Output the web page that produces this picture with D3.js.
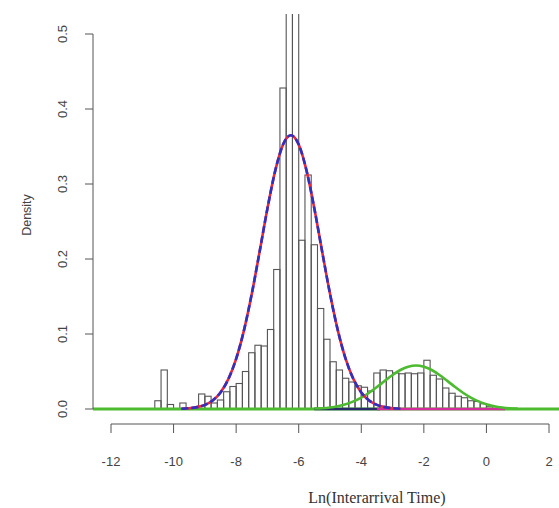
<!DOCTYPE html>
<html>
<head>
<meta charset="utf-8">
<script src="https://cdn.jsdelivr.net/npm/d3@7"></script>
<style>
  body { margin: 0; background: #fff; }
  text { font-family: "Liberation Sans", Arial, sans-serif; fill: #444; }
  .xlab { font-family: "Liberation Serif", "Times New Roman", serif; fill: #333; }
</style>
</head>
<body>
<div id="chart"></div>
<script>
// histogram bins (left edge, width 0.2) and densities
const binLeft = [-10.6, -10.4, -10.2, -10.0, -9.8, -9.6, -9.4, -9.2, -9.0, -8.8,
  -8.6, -8.4, -8.2, -8.0, -7.8, -7.6, -7.4, -7.2, -7.0, -6.8,
  -6.6, -6.4, -6.2, -6.0, -5.8, -5.6, -5.4, -5.2, -5.0, -4.8,
  -4.6, -4.4, -4.2, -4.0, -3.8, -3.6, -3.4, -3.2, -3.0, -2.8,
  -2.6, -2.4, -2.2, -2.0, -1.8, -1.6, -1.4, -1.2, -1.0, -0.8,
  -0.6, -0.4, -0.2, 0.0]
const binDensity = [0.011, 0.052, 0.006, 0, 0.008, 0, 0, 0.020, 0.017, 0.008,
  0.012, 0.023, 0.030, 0.034, 0.050, 0.075, 0.085, 0.084, 0.106, 0.186,
  0.428, 0.62, 0.60, 0.225, 0.312, 0.219, 0.134, 0.093, 0.063, 0.052,
  0.041, 0.036, 0.031, 0.029, 0.024, 0.048, 0.052, 0.051, 0.048, 0.047,
  0.048, 0.047, 0.048, 0.065, 0.045, 0.040, 0.028, 0.021, 0.017, 0.015,
  0.011, 0.010, 0.007, 0.003]
const binWidth = 0.2

// main fitted component (red solid + blue dashed)
const mainX = [-9.75, -9.5, -9.25, -9.0, -8.75, -8.5, -8.25, -8.0, -7.75, -7.5, -7.25, -7.0,
  -6.75, -6.5, -6.25, -6.0, -5.75, -5.5, -5.25, -5.0, -4.75, -4.5, -4.25, -4.0,
  -3.75, -3.5, -3.25, -3.0, -2.75]
const mainY = [0.0004, 0.001, 0.0025, 0.0055, 0.0114, 0.0221, 0.0398, 0.0669, 0.1049, 0.1536, 0.2097, 0.2673,
  0.3178, 0.3526, 0.365, 0.3526, 0.3178, 0.2673, 0.2097, 0.1536, 0.1049, 0.0669, 0.0398, 0.0221,
  0.0114, 0.0055, 0.0025, 0.001, 0.0004]

// second component (green)
const secX = [-5.5, -5.25, -5.0, -4.75, -4.5, -4.25, -4.0, -3.75, -3.5, -3.25, -3.0, -2.75, -2.5,
  -2.25, -2.0, -1.75, -1.5, -1.25, -1.0, -0.75, -0.5, -0.25, 0.0, 0.25, 0.5, 0.75, 1.0]
const secY = [0.0006, 0.0011, 0.0021, 0.0038, 0.0064, 0.0101, 0.0152, 0.0217, 0.0293, 0.0375, 0.0454, 0.052, 0.0564,
  0.058, 0.0564, 0.052, 0.0454, 0.0375, 0.0293, 0.0217, 0.0152, 0.0101, 0.0064, 0.0038, 0.0021, 0.0011, 0.0006]

// flat tails lying on the baseline
const greenBase = [[-12.6, 0], [2.4, 0]]
const navyTail = [[-5.5, 0], [-3.4, 0]]
const magentaTail = [[-3.5, 0], [0.6, 0]]

const yTicks = [0, 0.1, 0.2, 0.3, 0.4, 0.5]
const xTicks = [-12, -10, -8, -6, -4, -2, 0, 2]

const W = 559, H = 508
const d3x = d3.scaleLinear().domain([-12, 2]).range([111, 549])
const d3y = d3.scaleLinear().domain([0, 0.5]).range([409, 34])

const svg = d3.select("#chart").append("svg").attr("width", W).attr("height", H)

svg.append("defs").append("clipPath").attr("id", "plotclip")
  .append("rect").attr("x", 93).attr("y", 14).attr("width", W - 93).attr("height", 420)

const main_g = svg.append("g").attr("clip-path", "url(#plotclip)")

// histogram
binLeft.forEach((b, i) => {
  if (!binDensity[i]) return
  main_g.append("rect")
    .attr("x", d3x(b))
    .attr("y", d3y(binDensity[i]))
    .attr("width", d3x(b + binWidth) - d3x(b))
    .attr("height", d3y(0) - d3y(binDensity[i]))
    .attr("fill", "none")
    .attr("stroke", "#555")
    .attr("stroke-width", 1.1)
})

const line = d3.line().curve(d3.curveMonotoneX).x(d => d3x(d[0])).y(d => d3y(d[1]))
const zip = (xs, ys) => xs.map((x, i) => [x, ys[i]])

function drawLine(pts, color, width, dash) {
  const p = main_g.append("path")
    .attr("d", line(pts))
    .attr("fill", "none")
    .attr("stroke", color)
    .attr("stroke-width", width)
  if (dash) p.attr("stroke-dasharray", dash)
}

drawLine(greenBase, "#4cbb30", 3)
drawLine(navyTail, "#2a2a6a", 2.5)
drawLine(magentaTail, "#d42c9c", 2.5)
drawLine(zip(secX, secY), "#4cbb30", 2.6)
drawLine(zip(mainX, mainY), "#e8283c", 2.6)
drawLine(zip(mainX, mainY), "#3030c0", 2.6, "7,3")

// y axis
const axis_g = svg.append("g")
axis_g.append("line").attr("x1", 93).attr("x2", 93).attr("y1", d3y(0.5)).attr("y2", d3y(0))
  .attr("stroke", "#555").attr("stroke-width", 1)
yTicks.forEach(t => {
  axis_g.append("line").attr("x1", 85).attr("x2", 93).attr("y1", d3y(t)).attr("y2", d3y(t))
    .attr("stroke", "#555")
  axis_g.append("text")
    .attr("transform", "translate(67," + d3y(t) + ") rotate(-90)")
    .attr("text-anchor", "middle")
    .attr("font-size", 13)
    .text(d3.format(".1f")(t))
})
axis_g.append("text")
  .attr("transform", "translate(31,215) rotate(-90)")
  .attr("text-anchor", "middle")
  .attr("font-size", 12.5)
  .text("Density")

// x axis
axis_g.append("line").attr("x1", d3x(-12)).attr("x2", d3x(2)).attr("y1", 424).attr("y2", 424)
  .attr("stroke", "#555")
xTicks.forEach(t => {
  axis_g.append("line").attr("x1", d3x(t)).attr("x2", d3x(t)).attr("y1", 424).attr("y2", 433)
    .attr("stroke", "#555")
  axis_g.append("text")
    .attr("x", d3x(t)).attr("y", 466)
    .attr("text-anchor", "middle")
    .attr("font-size", 13)
    .text(t)
})
axis_g.append("text")
  .attr("class", "xlab")
  .attr("x", 377).attr("y", 503)
  .attr("text-anchor", "middle")
  .attr("font-size", 16)
  .text("Ln(Interarrival Time)")
</script>
</body>
</html>
